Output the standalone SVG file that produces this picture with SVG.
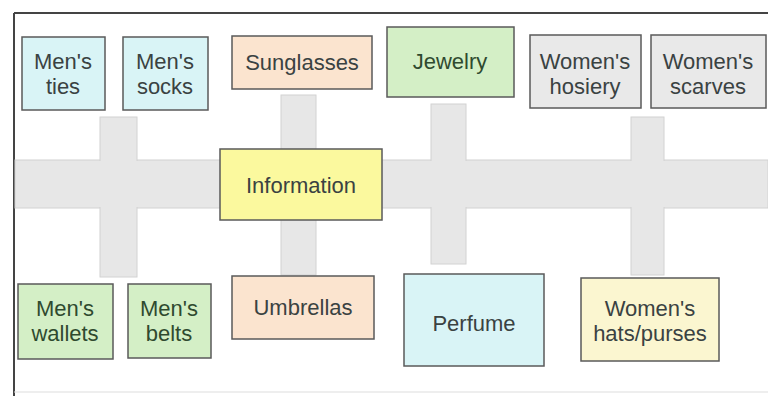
<svg xmlns="http://www.w3.org/2000/svg" width="768" height="396" viewBox="0 0 768 396">
<style>
.box{stroke:#5a5a5a;stroke-width:1.5}
.cor{fill:#e7e7e7;stroke:#d2d2d2;stroke-width:1}
.t{font-family:"Liberation Sans","Open Sans",sans-serif;font-size:22px;text-anchor:middle;fill:#3a4242}
.cy{fill:#d9f4f6}.pe{fill:#fbe4cf}.gr{fill:#d4efc6}.gy{fill:#e9e9e9}.ye{fill:#fbf99e}.cr{fill:#fbf6d0}
.tg{fill:#2f4a2f}
</style>
<rect width="768" height="396" fill="#ffffff"/>
<path d="M14 13H768M14 13V396" stroke="#444" stroke-width="2" fill="none"/>
<path d="M14 392H768" stroke="#ddd" stroke-width="1" fill="none"/>
<g id="connectors">
<rect class="cor" x="15" y="160" width="753" height="48"/>
<rect class="cor" x="100" y="117" width="37" height="160"/>
<rect class="cor" x="281" y="95" width="35" height="180"/>
<rect class="cor" x="431" y="104" width="35" height="160"/>
<rect class="cor" x="631" y="117" width="33" height="158"/>
<rect x="16" y="161" width="751" height="46" fill="#e7e7e7"/>
</g>
<g id="mens-ties"><rect class="box cy" x="22" y="37" width="83" height="73"/><text class="t" x="63" y="69">Men's</text><text class="t" x="63" y="94">ties</text></g>
<g id="mens-socks"><rect class="box cy" x="123" y="37" width="85" height="73"/><text class="t" x="165" y="69">Men's</text><text class="t" x="165" y="94">socks</text></g>
<g id="sunglasses"><rect class="box pe" x="232" y="36" width="140" height="53"/><text class="t" x="302" y="70">Sunglasses</text></g>
<g id="jewelry"><rect class="box gr" x="387" y="27" width="127" height="70"/><text class="t tg" x="450" y="69">Jewelry</text></g>
<g id="womens-hosiery"><rect class="box gy" x="530" y="35" width="111" height="73"/><text class="t" x="585" y="69">Women's</text><text class="t" x="585" y="94">hosiery</text></g>
<g id="womens-scarves"><rect class="box gy" x="651" y="35" width="115" height="73"/><text class="t" x="708" y="69">Women's</text><text class="t" x="708" y="94">scarves</text></g>
<g id="information"><rect class="box ye" x="220" y="149" width="162" height="71"/><text class="t" x="301" y="193">Information</text></g>
<g id="mens-wallets"><rect class="box gr" x="18" y="284" width="95" height="75"/><text class="t tg" x="65" y="316">Men's</text><text class="t tg" x="65" y="341">wallets</text></g>
<g id="mens-belts"><rect class="box gr" x="128" y="284" width="83" height="74"/><text class="t tg" x="169" y="316">Men's</text><text class="t tg" x="169" y="341">belts</text></g>
<g id="umbrellas"><rect class="box pe" x="232" y="276" width="142" height="63"/><text class="t" x="303" y="315">Umbrellas</text></g>
<g id="perfume"><rect class="box cy" x="404" y="274" width="140" height="92"/><text class="t" x="474" y="331">Perfume</text></g>
<g id="womens-hats-purses"><rect class="box cr" x="581" y="278" width="138" height="83"/><text class="t" x="650" y="316">Women's</text><text class="t" x="650" y="341">hats/purses</text></g>
</svg>
